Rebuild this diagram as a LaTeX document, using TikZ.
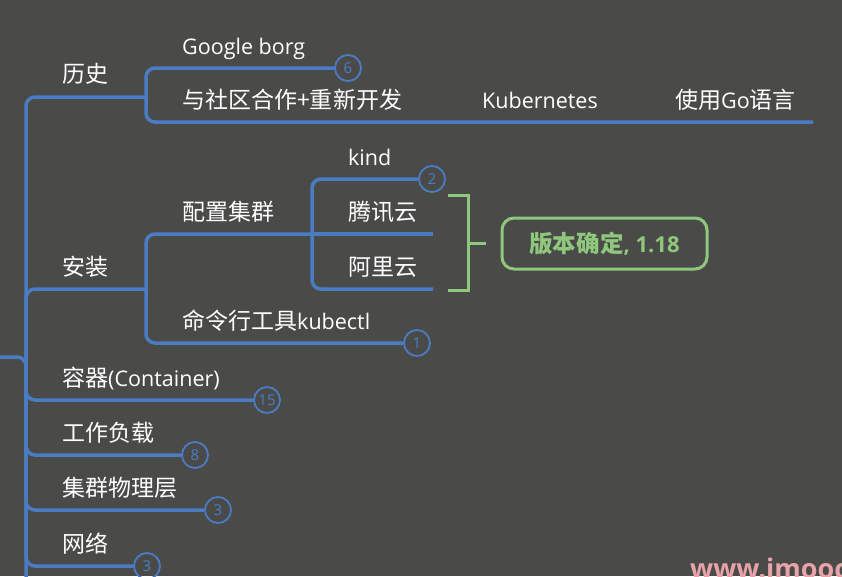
\documentclass[tikz,border=0pt]{standalone}
\usepackage{fontspec}
\setmainfont{Open Sans}
\newfontfamily\cjk[Scale=1.07]{Noto Sans CJK SC}
\usetikzlibrary{positioning}

\definecolor{bgcolor}{HTML}{4A4B49}
\definecolor{lineblue}{HTML}{4A7CC4}
\definecolor{notegreen}{HTML}{8FC87C}
\definecolor{markpink}{HTML}{E8A2AA}

\begin{document}
\begin{tikzpicture}[
    x=1pt, y=-1pt,
    every node/.style={inner sep=0pt},
    topic/.style={anchor=base west, text=white, font=\fontsize{21.5}{22}\selectfont},
    branch/.style={draw=lineblue, line width=3.5pt, rounded corners=9pt},
    count/.style={circle, draw=lineblue, line width=1.8pt, minimum size=26pt, text=lineblue, font=\fontsize{15}{15}\selectfont},
    note/.style={draw=notegreen, line width=3pt}
]
    \fill[bgcolor] (0,0) rectangle (842,576);
    \useasboundingbox (0,0) rectangle (842,576);

    % forks of the tree
    \coordinate (root) at (0,357);
    \coordinate (trunk) at (26,357);
    \coordinate (trunk_end) at (26,590);
    \coordinate (hist_fork) at (146,97);
    \coordinate (inst_fork) at (146,289);
    \coordinate (cluster_fork) at (312,234);
    \coordinate (go_end) at (813,122);
    \coordinate (tencent_end) at (433,234);
    \coordinate (aliyun_end) at (433,289);

    \node[topic] (hist) at (62,82) {\cjk 历史};
    \node[topic] (borg) at (182,54) {Google borg};
    \node[topic] (community) at (182,108) {\cjk 与社区合作+重新开发};
    \node[topic] (kubernetes) at (482,108) {Kubernetes};
    \node[topic] (golang) at (675,108) {{\cjk 使用}Go{\cjk 语言}};
    \node[topic] (install) at (62,275) {\cjk 安装};
    \node[topic] (cluster) at (182,220) {\cjk 配置集群};
    \node[topic] (kind) at (348,165) {kind};
    \node[topic] (tencent) at (348,220) {\cjk 腾讯云};
    \node[topic] (aliyun) at (348,275) {\cjk 阿里云};
    \node[topic] (kubectl) at (182,329) {{\cjk 命令行工具}kubectl};
    \node[topic] (container) at (62,386) {{\cjk 容器}(Container)};
    \node[topic] (workload) at (62,441) {\cjk 工作负载};
    \node[topic] (physical) at (62,496) {\cjk 集群物理层};
    \node[topic] (network) at (62,552) {\cjk 网络};

    \node[count] (n6) at (348,68) {6};
    \node[count] (n2) at (432,179) {2};
    \node[count] (n1) at (417,343) {1};
    \node[count] (n15) at (267,400) {15};
    \node[count] (n8) at (195,455) {8};
    \node[count] (n3a) at (218,510) {3};
    \node[count] (n3b) at (147,566) {3};

    \draw[branch] (root) -- (trunk) -- (trunk_end);
    \draw[branch] (trunk) |- (hist_fork);
    \draw[branch] (hist_fork) |- (n6.west);
    \draw[branch] (hist_fork) |- (go_end);
    \draw[branch] (trunk) |- (inst_fork);
    \draw[branch] (inst_fork) |- (cluster_fork);
    \draw[branch] (inst_fork) |- (n1.west);
    \draw[branch] (cluster_fork) |- (n2.west);
    \draw[branch] (cluster_fork) -- (tencent_end);
    \draw[branch] (cluster_fork) |- (aliyun_end);
    \draw[branch] (trunk) |- (n15.west);
    \draw[branch] (trunk) |- (n8.west);
    \draw[branch] (trunk) |- (n3a.west);
    \draw[branch] (trunk) |- (n3b.west);

    % summary of the two clouds
    \coordinate (brace_top) at (448,195);
    \coordinate (brace_bottom) at (448,290);
    \coordinate (brace_tip) at (486,243);
    \node[note, rounded corners=12pt, minimum width=205pt, minimum height=51pt,
        text=notegreen, font=\bfseries\fontsize{22}{22}\selectfont] (version) at (604.5,243.5) {{\cjk 版本确定}, 1.18};
    \draw[note] (brace_top) -- ++(20,0) |- (brace_bottom);
    \draw[note] (468,243) -- (brace_tip);

    \node[anchor=base west, text=markpink, font=\bfseries\fontsize{27}{27}\selectfont] (mark) at (690,578) {www.imooc};
\end{tikzpicture}
\end{document}
